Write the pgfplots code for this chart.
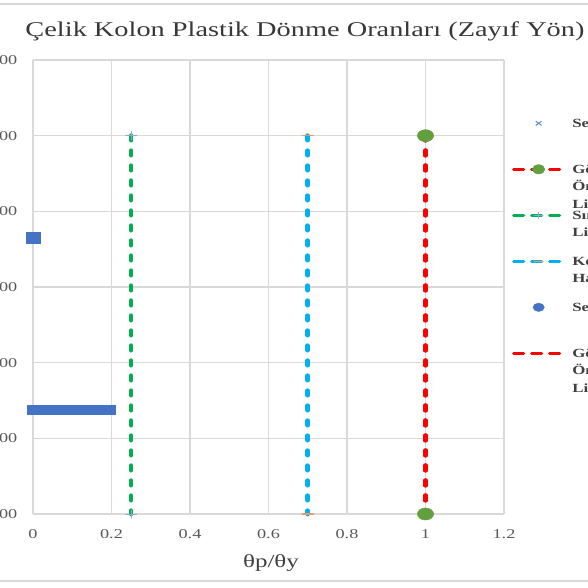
\documentclass[border=0pt]{standalone}
\usepackage{fontspec}
\setmainfont{Liberation Serif}[FakeStretch=1.35]
\usepackage{pgfplots}
\pgfplotsset{compat=1.18}
\usetikzlibrary{plotmarks}
\definecolor{gridc}{HTML}{D9D9D9}
\definecolor{tickc}{HTML}{595959}
\definecolor{legc}{HTML}{404040}
\definecolor{titc}{HTML}{383838}
\definecolor{labc}{HTML}{404040}
\definecolor{redl}{HTML}{FF0000}
\definecolor{greenl}{HTML}{00B050}
\definecolor{cyanl}{HTML}{00B0F0}
\definecolor{gcirc}{HTML}{62A03E}
\definecolor{plusc}{HTML}{8EA9DB}
\definecolor{orangec}{HTML}{F0956A}
\definecolor{s1c}{HTML}{5B8BD0}
\definecolor{s5c}{HTML}{4472C4}
\newcommand{\lgt}[1]{\smash{\vtop{\baselineskip=17.5pt #1}}}
\pgfplotsset{
  lineleg/.style={legend image code/.code={\draw[mark repeat=2,mark phase=2,##1,line width=3.3pt,dash pattern=on 10pt off 8pt,mark size=#1] plot coordinates {(0pt,4pt)(25pt,4pt)(50pt,4pt)};}},
  markleg/.style={legend image code/.code={\draw[##1,mark size=#1] plot coordinates {(25pt,4pt)};}},
  vdash/.style={line width=4.7pt, line cap=round, dash pattern=on 4.5pt off 10.5pt},
}
\begin{document}
\begin{tikzpicture}
\begin{axis}[
  at={(0pt,0pt)}, anchor=south west,
  scale only axis, width=471pt, height=454pt,
  xmin=0, xmax=1.2, ymin=100, ymax=700,
  xtick={0,0.2,0.4,0.6,0.8,1,1.2},
  ytick={100,200,300,400,500,600,700},
  grid=major, major grid style={line width=1.3pt, draw=gridc},
  axis line style={draw=none}, major tick length=0pt,
  clip=false,
  /pgf/number format/assume math mode=true,
  ticklabel style={font=\fontsize{13.5}{16}\selectfont, text=tickc},
  xticklabel style={anchor=base, yshift=-24pt},
  yticklabel style={anchor=east, inner sep=0pt, xshift=-15.5pt},
  xlabel={θp/θy},
  xlabel style={at={(axis description cs:0.5,0)}, anchor=base, yshift=-53pt, xshift=2.5pt, font=\fontsize{18.5}{20}\selectfont, text=labc},
  legend cell align=left,
  legend style={at={(axis description cs:1.01699,0.9024)}, anchor=north west,
    draw=none, fill=none, inner sep=0pt, outer sep=0pt,
    row sep=0pt, column sep=7pt,
    font=\fontsize{12.5}{17.5}\selectfont\bfseries, text=legc,
    nodes={inner sep=0pt, outer sep=0pt, text height=23pt, text depth=23pt, font=\fontsize{12.5}{17.5}\selectfont\bfseries}},
]
% Seri1
\addplot[only marks, mark=x, mark size=3pt, color=s1c, mark options={xscale=1.35, line width=1pt}, markleg=3pt]
coordinates {(0,238)(0.02,238)(0.04,238)(0.06,238)(0.08,238)(0.10,238)(0.12,238)(0.14,238)(0.16,238)(0.18,238)(0.19,238)};
\addlegendentry{\lgt{\hbox{Seri1}}}
% Göçme Önleme Limiti (with markers)
\addplot[color=redl, vdash,
  mark=*, mark size=6pt, mark options={solid, fill=gcirc, draw=gcirc, line width=0.5pt, xscale=1.35}, lineleg=4.6pt]
coordinates {(1,600)(1,100)};
\addlegendentry{\lgt{\hbox{Göçme}\hbox{Önleme}\hbox{Limiti}}}
% Sınırlı Hasar Limiti
\addplot[color=greenl, vdash,
  mark=+, mark size=4pt, mark options={solid, draw=plusc, line width=1pt, xscale=1.35}, lineleg=3pt]
coordinates {(0.25,600)(0.25,100)};
\addlegendentry{\lgt{\hbox{Sınırlı Hasar}\hbox{Limiti}}}
% Kontrollü Hasar
\addplot[color=cyanl, vdash,
  mark=-, mark size=4pt, mark options={solid, draw=orangec, line width=1.5pt, xscale=1.35}, lineleg=3pt]
coordinates {(0.7,600)(0.7,100)};
\addlegendentry{\lgt{\hbox{Kontrollü}\hbox{Hasar Limiti}}}
% Seri5
\addplot[forget plot, only marks, mark=square*, mark size=4.5pt, color=s5c, mark options={xscale=1.35}]
coordinates {(0,238)(0.01,238)(0.02,238)(0.03,238)(0.04,238)(0.05,238)(0.06,238)(0.07,238)(0.08,238)(0.09,238)(0.10,238)(0.11,238)(0.12,238)(0.13,238)(0.14,238)(0.15,238)(0.16,238)(0.17,238)(0.18,238)(0.19,238)(0.195,238)};
\addplot[forget plot, only marks, mark=square*, mark size=5.5pt, color=s5c, mark options={xscale=1.3}]
coordinates {(0,465)};
\addlegendimage{only marks, mark=*, color=s5c, mark options={xscale=1.35}, markleg=4.2pt}
\addlegendentry{\lgt{\hbox{Seri5}}}
% Göçme Önleme Limiti (line)
\addplot[color=redl, vdash, lineleg=3pt]
coordinates {(1,600)(1,100)};
\addlegendentry{\lgt{\hbox{Göçme}\hbox{Önleme}\hbox{Limiti}}}
\end{axis}
\node[anchor=base, font=\fontsize{21}{24}\selectfont, text=titc] at (272pt,477pt) {Çelik Kolon Plastik Dönme Oranları (Zayıf Yön)};
\draw[gridc, line width=1.5pt] (-40pt,510pt) -- (600pt,510pt);
\draw[gridc, line width=1.5pt] (-40pt,-67pt) -- (600pt,-67pt);
\pgfresetboundingbox
\useasboundingbox (-33pt,-74pt) rectangle (555pt,514pt);
\end{tikzpicture}
\end{document}
